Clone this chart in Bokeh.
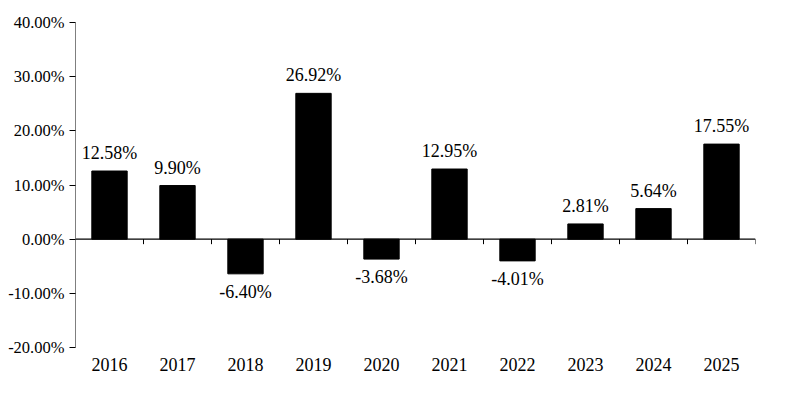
import math
from bokeh.plotting import figure
from bokeh.models import LinearAxis, FixedTicker, ColumnDataSource, Range1d, Span
from bokeh.core.properties import value
from bokeh.embed import file_html
from bokeh.resources import INLINE

years = ["2016", "2017", "2018", "2019", "2020", "2021", "2022", "2023", "2024", "2025"]
returns = [12.58, 9.90, -6.40, 26.92, -3.68, 12.95, -4.01, 2.81, 5.64, 17.55]
y_ticks = [-20, -10, 0, 10, 20, 30, 40]

FONT = "Liberation Serif"

xs = [i + 0.5 for i in range(len(years))]
labels = [f"{v:.2f}%" for v in returns]
src = ColumnDataSource(dict(x=xs, top=returns, label=labels))
pos = ColumnDataSource(dict(x=[x for x, v in zip(xs, returns) if v >= 0],
                            y=[v for v in returns if v >= 0],
                            label=[l for l, v in zip(labels, returns) if v >= 0]))
neg = ColumnDataSource(dict(x=[x for x, v in zip(xs, returns) if v < 0],
                            y=[v for v in returns if v < 0],
                            label=[l for l, v in zip(labels, returns) if v < 0]))

p = figure(width=786, height=406, output_backend="svg", toolbar_location=None,
           x_range=Range1d(0, len(years)), y_range=Range1d(-20, 40),
           x_axis_type=None, y_axis_location="left",
           min_border_left=75, min_border_right=31, min_border_top=22, min_border_bottom=59)
p.outline_line_color = None
p.xgrid.visible = False
p.ygrid.visible = False
p.background_fill_color = "white"
p.border_fill_color = "white"

p.vbar(x="x", top="top", bottom=0, width=0.52, source=src, color="black")

# zero line and category boundary ticks
p.add_layout(Span(location=0, dimension="width", line_color="black", line_width=1.3))
boundaries = list(range(1, len(years) + 1))
p.ray(x=boundaries, y=[0] * len(boundaries), length=5, length_units="screen",
      angle=-math.pi / 2, line_color="black", line_width=1)

p.text(x="x", y="y", text="label", source=pos, text_align="center", text_baseline="bottom",
       y_offset=-8, text_font=value(FONT), text_font_size="18px", text_color="black")
p.text(x="x", y="y", text="label", source=neg, text_align="center", text_baseline="top",
       y_offset=8, text_font=value(FONT), text_font_size="18px", text_color="black")

# y axis
ya = p.yaxis[0]
ya.ticker = FixedTicker(ticks=y_ticks)
ya.major_label_overrides = {t: f"{t:.2f}%" for t in y_ticks}
ya.major_label_text_font = FONT
ya.major_label_text_font_size = "16.5px"
ya.major_label_text_color = "black"
ya.axis_line_color = "#7f7f7f"
ya.major_tick_line_color = "black"
ya.major_tick_out = 6
ya.major_tick_in = 0
ya.minor_tick_line_color = None
ya.major_label_standoff = 5

# category labels axis
cat_axis = LinearAxis(ticker=FixedTicker(ticks=xs),
                      major_label_overrides={x: y for x, y in zip(xs, years)},
                      axis_line_color=None, major_tick_line_color=None,
                      major_tick_out=0, major_tick_in=0,
                      minor_tick_line_color=None, minor_tick_out=0,
                      major_label_text_font=FONT, major_label_text_font_size="18px",
                      major_label_text_color="black", major_label_standoff=10)
p.add_layout(cat_axis, "below")

open("out.html", "w").write(file_html(p, INLINE))
